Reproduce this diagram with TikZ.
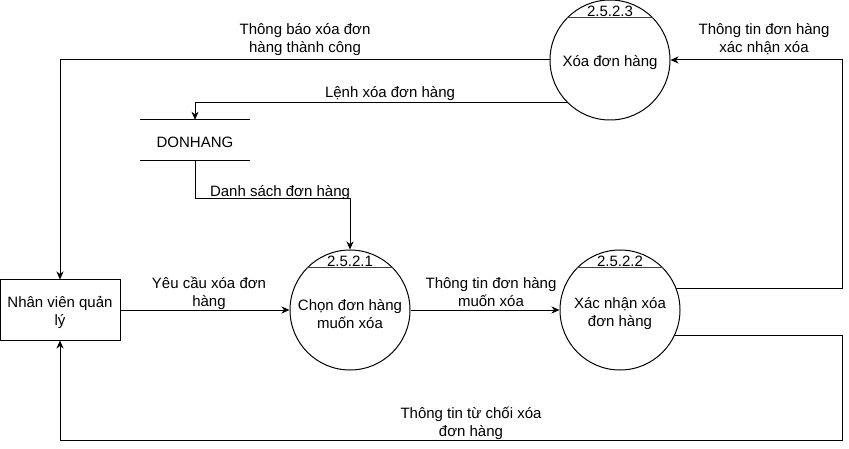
\documentclass[tikz,border=0pt]{standalone}
\usepackage{fontspec}
\setmainfont{Liberation Sans}
\usetikzlibrary{arrows.meta,calc}
\begin{document}
\begin{tikzpicture}[x=1pt,y=-1pt,
  every node/.style={font=\fontsize{15}{18}\selectfont, inner sep=0pt, align=center},
  proc/.style={draw, circle, minimum size=120pt, line width=1pt},
  ent/.style={draw, rectangle, minimum width=120pt, minimum height=60pt, line width=1pt},
  store/.style={minimum width=110pt, minimum height=40pt},
  flow/.style={line width=1pt, -{Stealth[length=8pt,width=7pt,inset=2.5pt]}},
  lbl/.style={}]
\useasboundingbox (0,0) rectangle (849,449);
\fill[white] (0,0) rectangle (849,449);
% nodes
\node[ent] (nv) at (60,310) {};
\node (nvt) at (60,312) {Nhân viên quản\\lý};
\node[proc] (c1) at (350,310) {};
\node[proc] (c2) at (620,310) {};
\node[proc] (c3) at (610,60) {};
\node[store] (ds) at (195,140) {};
\node (dst) at (195,142) {DONHANG};
\draw[line width=1pt] (ds.north west) -- (ds.north east);
\draw[line width=1pt] (ds.south west) -- (ds.south east);
% inner lines of processes
\foreach \c in {c1,c2,c3}{
  \draw[line width=1pt, black!75] ($(\c.center)+(-42.8,-42)$) -- ($(\c.center)+(42.8,-42)$);
}
\node (n1) at ($(c1.center)+(0,-49)$) {2.5.2.1};
\node (n2) at ($(c2.center)+(0,-49)$) {2.5.2.2};
\node (n3) at ($(c3.center)+(0,-49)$) {2.5.2.3};
\node (t1) at ($(c1.center)+(0,4)$) {Chọn đơn hàng\\muốn xóa};
\node (t2) at ($(c2.center)+(0,4)$) {Xác nhận xóa\\đơn hàng};
\node (t3) at ($(c3.center)+(0,2.5)$) {Xóa đơn hàng};
% helper coordinates
\coordinate (rx) at (842,0);
\coordinate (bt) at (0,440);
\coordinate (dy) at (0,199);
% connectors
\draw[flow] (c3.west) -| (nv.north);
\draw[flow] (c3.225.8) -| (ds.north);
\draw[flow] (ds.south) -- (ds.south |- dy) -| (c1.north);
\draw[flow] (nv.east) -- (c1.west);
\draw[flow] (c1.east) -- (c2.west);
\draw[flow] (c2.21.5) -- (c2.21.5 -| rx) |- (c3.east);
\draw[flow] (c2.335.4) -- (c2.335.4 -| rx) -- (rx |- bt) -| (nv.south);
% labels
\node[lbl] (l1) at (305,39.5) {Thông báo xóa đơn\\hàng thành công};
\node[lbl] (l2) at (390,94) {Lệnh xóa đơn hàng};
\node[lbl] (l3) at (280,193) {Danh sách đơn hàng};
\node[lbl] (l4) at (209,293) {Yêu cầu xóa đơn\\hàng};
\node[lbl] (l5) at (491,292) {Thông tin đơn hàng\\muốn xóa};
\node[lbl] (l6) at (764,39.5) {Thông tin đơn hàng\\xác nhận xóa};
\node[lbl] (l7) at (471,423) {Thông tin từ chối xóa\\đơn hàng};
\end{tikzpicture}
\end{document}
